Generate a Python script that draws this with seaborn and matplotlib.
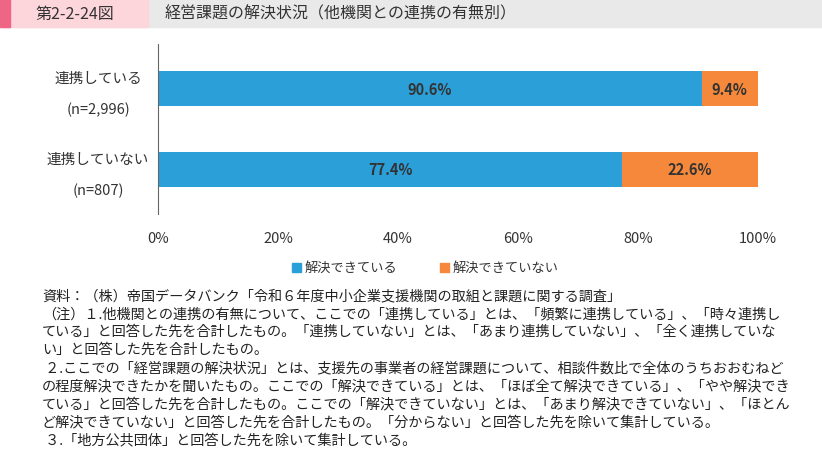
import matplotlib
matplotlib.use("Agg")
import matplotlib.pyplot as plt
import seaborn as sns
import pandas as pd
from matplotlib.patches import Rectangle

plt.rcParams["font.family"] = "Noto Sans CJK JP"

groups = ["連携している", "連携していない"]
group_n = ["(n=2,996)", "(n=807)"]
solved = [90.6, 77.4]
unsolved = [9.4, 22.6]
series_names = ["解決できている", "解決できていない"]
xticks = [0, 20, 40, 60, 80, 100]
blue = "#2b9fd8"
orange = "#f5883b"

notes = [
    "資料：（株）帝国データバンク「令和６年度中小企業支援機関の取組と課題に関する調査」",
    "（注）１.他機関との連携の有無について、ここでの「連携している」とは、「頻繁に連携している」、「時々連携し",
    "ている」と回答した先を合計したもの。「連携していない」とは、「あまり連携していない」、「全く連携していな",
    "い」と回答した先を合計したもの。",
    " ２.ここでの「経営課題の解決状況」とは、支援先の事業者の経営課題について、相談件数比で全体のうちおおむねど",
    "の程度解決できたかを聞いたもの。ここでの「解決できている」とは、「ほぼ全て解決できている」、「やや解決でき",
    "ている」と回答した先を合計したもの。ここでの「解決できていない」とは、「あまり解決できていない」、「ほとん",
    "ど解決できていない」と回答した先を合計したもの。「分からない」と回答した先を除いて集計している。",
    " ３.「地方公共団体」と回答した先を除いて集計している。",
]

df = pd.DataFrame({"group": groups, "solved": solved, "unsolved": unsolved})

fig = plt.figure(figsize=(8.22, 4.56), dpi=100)
W, H = 822, 456

# header band
fig.patches.append(Rectangle((0, 1 - 28 / H), 1, 28 / H, transform=fig.transFigure, color="#e9e9e9"))
fig.patches.append(Rectangle((0, 1 - 28 / H), 148 / W, 28 / H, transform=fig.transFigure, color="#fdd6dc"))
fig.patches.append(Rectangle((0, 1 - 28 / H), 10 / W, 28 / H, transform=fig.transFigure, color="#ef6585"))
fig.text(75 / W, 1 - 14 / H, "第2-2-24図", ha="center", va="center", fontsize=11.5, color="#333333")
fig.text(165 / W, 1 - 14 / H, "経営課題の解決状況（他機関との連携の有無別）", ha="left", va="center",
         fontsize=11.5, color="#333333")

ax = fig.add_axes([158 / W, 1 - 215 / H, 600 / W, 170 / H])
sns.barplot(data=df, y="group", x="solved", color=blue, orient="h", width=0.44, ax=ax, saturation=1)
ax.barh(range(len(groups)), df["unsolved"], left=df["solved"], height=0.44, color=orange)

for i in range(len(groups)):
    ax.text(solved[i] / 2, i, f"{solved[i]}%", ha="center", va="center", fontsize=10.5,
            fontweight="bold", color="#333333")
    ax.text(solved[i] + unsolved[i] / 2, i, f"{unsolved[i]}%", ha="center", va="center",
            fontsize=10.5, fontweight="bold", color="#333333")
    ax.text(-10, i - 0.05, groups[i], ha="center", va="bottom", fontsize=10.5, color="#333333")
    ax.text(-10, i + 0.25, group_n[i], ha="center", va="center", fontsize=10.5, color="#333333")

ax.set_xlim(0, 100)
ax.set_ylim(1.55, -0.55)
ax.set_xticks(xticks)
ax.set_xticklabels([f"{t}%" for t in xticks], fontsize=10.5, color="#333333")
ax.set_yticks([])
ax.set_xlabel("")
ax.set_ylabel("")
for s in ["top", "right", "bottom"]:
    ax.spines[s].set_visible(False)
ax.spines["left"].set_color("#666666")
ax.tick_params(axis="x", length=0, pad=12)

# legend
fig.patches.append(Rectangle((292 / W, 1 - 273 / H), 9 / W, 9 / H, transform=fig.transFigure, color=blue))
fig.text(305 / W, 1 - 268.5 / H, series_names[0], va="center", fontsize=9.5, color="#333333")
fig.patches.append(Rectangle((440 / W, 1 - 273 / H), 9 / W, 9 / H, transform=fig.transFigure, color=orange))
fig.text(453 / W, 1 - 268.5 / H, series_names[1], va="center", fontsize=9.5, color="#333333")

for k, line in enumerate(notes):
    fig.text(42 / W, 1 - (296 + k * 18) / H, line, va="center", fontsize=10.2, color="#222222")

fig.savefig("out.png", dpi=100)
